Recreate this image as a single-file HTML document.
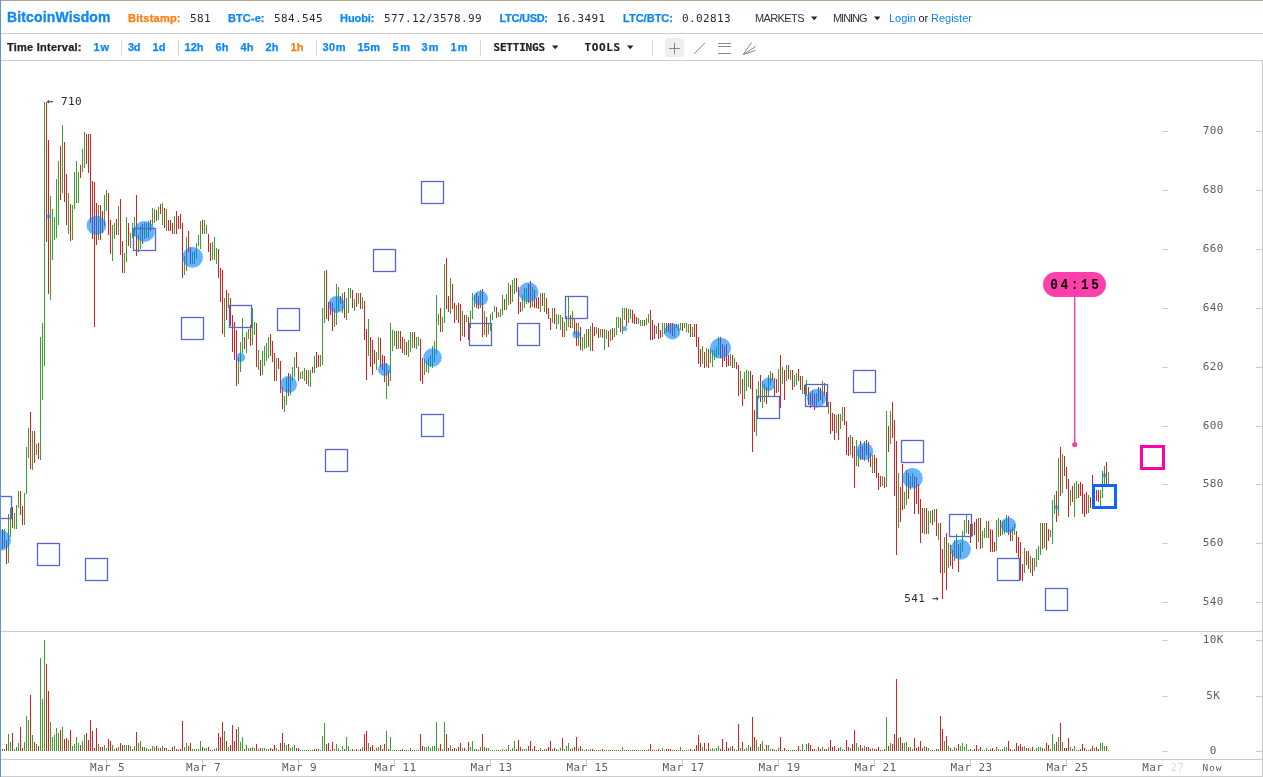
<!DOCTYPE html>
<html lang="en"><head><meta charset="utf-8"><title>BitcoinWisdom</title>
<style>
html,body{margin:0;padding:0;background:#fff;overflow:hidden}
svg{display:block;position:absolute;left:0;top:0}
text{white-space:pre}
.sb{font-family:"Liberation Sans",sans-serif;font-weight:bold;font-size:11px}
.sr{font-family:"Liberation Sans",sans-serif;font-size:11px}
.mo{font-family:"DejaVu Sans Mono","Liberation Mono",monospace;font-size:11px;letter-spacing:0.38px;fill:#2a2a2a}
.mb{font-family:"DejaVu Sans Mono","Liberation Mono",monospace;font-weight:bold;font-size:11px}
.ax{font-family:"DejaVu Sans Mono","Liberation Mono",monospace;font-size:11px;letter-spacing:0.38px;fill:#606060}
.blue{fill:#0d86ff}.or{fill:#ff7f0e}.dk{fill:#222}
.sb{stroke-width:0.25px}.mb{stroke:#222;stroke-width:0.2px}.sb.blue{stroke:#0d86ff}.sb.or{stroke:#ff7f0e}.sb.dk{stroke:#222}
</style></head><body>
<svg width="1263" height="777" viewBox="0 0 1263 777">
<rect width="1263" height="777" fill="#fff"/>

<g shape-rendering="crispEdges">
<rect x="0" y="0" width="1263" height="1" fill="#b3a594"/>
<rect x="0" y="33" width="1263" height="1" fill="#cccccc"/>
<rect x="0" y="60" width="1263" height="1" fill="#cccccc"/>
<rect x="0" y="631" width="1263" height="1" fill="#cccccc"/>
<rect x="0" y="759" width="1263" height="1" fill="#cccccc"/>
<rect x="0" y="776" width="1263" height="1" fill="#cccccc"/>
<rect x="1262" y="60" width="1" height="717" fill="#cccccc"/>
<rect x="121" y="40" width="1" height="16" fill="#d8d8d8"/>
<rect x="178" y="40" width="1" height="16" fill="#d8d8d8"/>
<rect x="316" y="40" width="1" height="16" fill="#d8d8d8"/>
<rect x="480" y="40" width="1" height="16" fill="#d8d8d8"/>
<rect x="652" y="40" width="1" height="16" fill="#d8d8d8"/>
</g>
<text x="7" y="22" style="font-family:'Liberation Sans',sans-serif;font-weight:bold;font-size:14px;stroke:#0d86ff;stroke-width:0.3px" class="blue" textLength="103.5" lengthAdjust="spacing">BitcoinWisdom</text>
<text x="128" y="22" class="sb or" textLength="52.5" lengthAdjust="spacing">Bitstamp:</text>
<text x="190" y="22" class="mo">581</text>
<text x="228" y="22" class="sb blue" textLength="36.5" lengthAdjust="spacing">BTC-e:</text>
<text x="274" y="22" class="mo">584.545</text>
<text x="340" y="22" class="sb blue" textLength="34.5" lengthAdjust="spacing">Huobi:</text>
<text x="384" y="22" class="mo">577.12/3578.99</text>
<text x="499.5" y="22" class="sb blue" textLength="48.5" lengthAdjust="spacing">LTC/USD:</text>
<text x="556.5" y="22" class="mo">16.3491</text>
<text x="623" y="22" class="sb blue" textLength="50" lengthAdjust="spacing">LTC/BTC:</text>
<text x="682" y="22" class="mo">0.02813</text>
<text x="755" y="22" class="sr" textLength="49.5" lengthAdjust="spacing" fill="#333">MARKETS</text>
<text x="833" y="22" class="sr" textLength="34.5" lengthAdjust="spacing" fill="#333">MINING</text>
<text x="889" y="22" class="sr blue">Login</text>
<text x="918.5" y="22" class="sr dk">or</text>
<text x="931" y="22" class="sr blue">Register</text>
<path d="M811 16.5h6.4l-3.2 3.8z M874 16.5h6.4l-3.2 3.8z M552 45.5h6.4l-3.2 3.8z M627 45.5h6.4l-3.2 3.8z" fill="#222"/>
<text x="7" y="51" class="sb dk" textLength="74.5" lengthAdjust="spacing">Time Interval:</text>
<text x="93.5" y="51" class="sb blue" textLength="15.5" lengthAdjust="spacing">1w</text>
<text x="128" y="51" class="sb blue" textLength="12.5" lengthAdjust="spacing">3d</text>
<text x="152.5" y="51" class="sb blue" textLength="13" lengthAdjust="spacing">1d</text>
<text x="184.5" y="51" class="sb blue" textLength="19" lengthAdjust="spacing">12h</text>
<text x="215.5" y="51" class="sb blue" textLength="13" lengthAdjust="spacing">6h</text>
<text x="240.5" y="51" class="sb blue" textLength="13" lengthAdjust="spacing">4h</text>
<text x="265.5" y="51" class="sb blue" textLength="13" lengthAdjust="spacing">2h</text>
<text x="290.5" y="51" class="sb or" textLength="13" lengthAdjust="spacing">1h</text>
<text x="322.5" y="51" class="sb blue" textLength="23" lengthAdjust="spacing">30m</text>
<text x="357.5" y="51" class="sb blue" textLength="22.5" lengthAdjust="spacing">15m</text>
<text x="392.5" y="51" class="sb blue" textLength="17.5" lengthAdjust="spacing">5m</text>
<text x="421.5" y="51" class="sb blue" textLength="17" lengthAdjust="spacing">3m</text>
<text x="450.5" y="51" class="sb blue" textLength="17" lengthAdjust="spacing">1m</text>
<text x="493.5" y="51" class="mb dk" textLength="51.5" lengthAdjust="spacing">SETTINGS</text>
<text x="584.5" y="51" class="mb dk" textLength="35.5" lengthAdjust="spacing">TOOLS</text>
<rect x="665" y="38" width="19" height="19" rx="3" fill="#eeeeee"/>
<g stroke="#888" stroke-width="1" fill="none">
<path d="M669 48.5h11M674.5 43v11"/>
<path d="M694.2 53.8L704.8 43"/>
<path d="M718 43.5h13M718 46.5h13M718 53.5h13"/>
<path d="M743.2 54.6L751.5 42.4M743.2 54.6L755.8 46.4M743.2 54.6L755.5 50.3"/>
</g>
<g shape-rendering="crispEdges" fill="#cccccc">
<rect x="1162" y="131" width="6" height="1"/><rect x="1256" y="131" width="6" height="1"/>
<rect x="1162" y="190" width="6" height="1"/><rect x="1256" y="190" width="6" height="1"/>
<rect x="1162" y="249" width="6" height="1"/><rect x="1256" y="249" width="6" height="1"/>
<rect x="1162" y="308" width="6" height="1"/><rect x="1256" y="308" width="6" height="1"/>
<rect x="1162" y="367" width="6" height="1"/><rect x="1256" y="367" width="6" height="1"/>
<rect x="1162" y="426" width="6" height="1"/><rect x="1256" y="426" width="6" height="1"/>
<rect x="1162" y="484" width="6" height="1"/><rect x="1256" y="484" width="6" height="1"/>
<rect x="1162" y="543" width="6" height="1"/><rect x="1256" y="543" width="6" height="1"/>
<rect x="1162" y="602" width="6" height="1"/><rect x="1256" y="602" width="6" height="1"/>
<rect x="1162" y="640" width="6" height="1"/><rect x="1256" y="640" width="6" height="1"/>
<rect x="1162" y="696" width="6" height="1"/><rect x="1256" y="696" width="6" height="1"/>
<rect x="1162" y="751" width="6" height="1"/><rect x="1256" y="751" width="6" height="1"/>
<rect x="1162" y="760" width="1" height="4" fill="#ececec"/>
<rect x="1066" y="760" width="1" height="4"/>
<rect x="970" y="760" width="1" height="4"/>
<rect x="874" y="760" width="1" height="4"/>
<rect x="778" y="760" width="1" height="4"/>
<rect x="682" y="760" width="1" height="4"/>
<rect x="586" y="760" width="1" height="4"/>
<rect x="490" y="760" width="1" height="4"/>
<rect x="394" y="760" width="1" height="4"/>
<rect x="298" y="760" width="1" height="4"/>
<rect x="202" y="760" width="1" height="4"/>
<rect x="106" y="760" width="1" height="4"/>
</g>
<text x="1213.2" y="134" class="ax" text-anchor="middle">700</text>
<text x="1213.2" y="193" class="ax" text-anchor="middle">680</text>
<text x="1213.2" y="252" class="ax" text-anchor="middle">660</text>
<text x="1213.2" y="311" class="ax" text-anchor="middle">640</text>
<text x="1213.2" y="370" class="ax" text-anchor="middle">620</text>
<text x="1213.2" y="429" class="ax" text-anchor="middle">600</text>
<text x="1213.2" y="487" class="ax" text-anchor="middle">580</text>
<text x="1213.2" y="546" class="ax" text-anchor="middle">560</text>
<text x="1213.2" y="605" class="ax" text-anchor="middle">540</text>
<text x="1213.2" y="643" class="ax" text-anchor="middle">10K</text>
<text x="1213.2" y="699" class="ax" text-anchor="middle">5K</text>
<text x="1213.2" y="754" class="ax" text-anchor="middle">0</text>
<text x="107.6" y="771" class="ax" text-anchor="middle">Mar 5</text>
<text x="203.6" y="771" class="ax" text-anchor="middle">Mar 7</text>
<text x="299.6" y="771" class="ax" text-anchor="middle">Mar 9</text>
<text x="395.6" y="771" class="ax" text-anchor="middle">Mar 11</text>
<text x="491.6" y="771" class="ax" text-anchor="middle">Mar 13</text>
<text x="587.6" y="771" class="ax" text-anchor="middle">Mar 15</text>
<text x="683.6" y="771" class="ax" text-anchor="middle">Mar 17</text>
<text x="779.6" y="771" class="ax" text-anchor="middle">Mar 19</text>
<text x="875.6" y="771" class="ax" text-anchor="middle">Mar 21</text>
<text x="971.6" y="771" class="ax" text-anchor="middle">Mar 23</text>
<text x="1067.6" y="771" class="ax" text-anchor="middle">Mar 25</text>
<text x="1142.2" y="771" class="ax">Mar <tspan fill="#dedede">27</tspan></text>
<text x="1202.4" y="771" class="ax" style="font-size:9.5px;letter-spacing:1.0px" fill="#505050">Now</text>
<g shape-rendering="crispEdges">
<path d="M4 529h1V548h-1zM8 514h1V563h-1zM10 508h1V537h-1zM14 513h1V529h-1zM16 505h1V529h-1zM18 491h1V508h-1zM24 493h1V525h-1zM26 447h1V494h-1zM28 428h1V458h-1zM32 431h1V470h-1zM36 444h1V455h-1zM40 337h1V460h-1zM42 323h1V400h-1zM44 102h1V366h-1zM50 196h1V300h-1zM52 209h1V260h-1zM54 217h1V240h-1zM56 179h1V238h-1zM58 161h1V225h-1zM62 125h1V193h-1zM68 193h1V234h-1zM72 205h1V240h-1zM74 172h1V209h-1zM76 161h1V203h-1zM78 172h1V203h-1zM82 149h1V172h-1zM84 132h1V168h-1zM98 205h1V240h-1zM104 195h1V226h-1zM106 190h1V211h-1zM112 225h1V261h-1zM114 223h1V239h-1zM118 206h1V235h-1zM124 253h1V273h-1zM126 217h1V262h-1zM130 233h1V248h-1zM132 223h1V238h-1zM134 217h1V236h-1zM138 235h1V252h-1zM140 226h1V249h-1zM144 223h1V239h-1zM146 223h1V238h-1zM148 221h1V238h-1zM152 208h1V225h-1zM154 209h1V223h-1zM158 207h1V220h-1zM162 203h1V225h-1zM166 209h1V231h-1zM174 216h1V234h-1zM184 256h1V275h-1zM186 237h1V271h-1zM192 252h1V264h-1zM194 251h1V264h-1zM196 243h1V259h-1zM198 235h1V246h-1zM200 221h1V249h-1zM204 220h1V234h-1zM206 225h1V234h-1zM212 242h1V260h-1zM214 237h1V260h-1zM216 248h1V264h-1zM224 298h1V337h-1zM228 293h1V308h-1zM238 357h1V384h-1zM240 342h1V372h-1zM242 318h1V353h-1zM246 332h1V353h-1zM248 329h1V339h-1zM252 308h1V345h-1zM254 322h1V335h-1zM258 350h1V370h-1zM262 351h1V375h-1zM264 346h1V366h-1zM266 343h1V361h-1zM268 337h1V358h-1zM276 358h1V381h-1zM284 396h1V412h-1zM286 378h1V405h-1zM290 374h1V395h-1zM292 367h1V381h-1zM294 357h1V377h-1zM300 372h1V379h-1zM302 371h1V379h-1zM304 368h1V381h-1zM308 370h1V386h-1zM310 370h1V387h-1zM314 356h1V373h-1zM320 355h1V367h-1zM322 308h1V365h-1zM324 271h1V323h-1zM334 308h1V327h-1zM336 284h1V325h-1zM338 287h1V311h-1zM342 293h1V313h-1zM346 298h1V320h-1zM348 288h1V313h-1zM350 288h1V298h-1zM354 299h1V311h-1zM358 293h1V304h-1zM362 297h1V309h-1zM368 319h1V356h-1zM376 352h1V370h-1zM378 337h1V360h-1zM386 363h1V399h-1zM390 323h1V381h-1zM392 330h1V351h-1zM394 331h1V346h-1zM398 331h1V349h-1zM404 339h1V355h-1zM408 340h1V357h-1zM410 332h1V352h-1zM412 332h1V348h-1zM416 337h1V349h-1zM418 337h1V346h-1zM424 359h1V375h-1zM426 361h1V372h-1zM428 358h1V373h-1zM430 355h1V367h-1zM432 346h1V368h-1zM434 341h1V362h-1zM436 295h1V354h-1zM438 314h1V325h-1zM442 317h1V332h-1zM444 264h1V323h-1zM450 278h1V314h-1zM456 305h1V320h-1zM462 311h1V336h-1zM466 315h1V322h-1zM470 311h1V328h-1zM472 293h1V319h-1zM474 295h1V307h-1zM480 290h1V308h-1zM484 311h1V335h-1zM488 324h1V334h-1zM490 314h1V331h-1zM492 312h1V320h-1zM494 306h1V312h-1zM498 312h1V317h-1zM500 309h1V317h-1zM502 295h1V315h-1zM506 294h1V310h-1zM508 283h1V305h-1zM512 280h1V302h-1zM514 278h1V294h-1zM522 295h1V311h-1zM524 288h1V308h-1zM526 288h1V304h-1zM532 287h1V307h-1zM540 293h1V312h-1zM544 293h1V312h-1zM552 308h1V323h-1zM556 314h1V329h-1zM558 315h1V324h-1zM560 315h1V330h-1zM564 322h1V337h-1zM566 316h1V331h-1zM568 297h1V327h-1zM572 311h1V328h-1zM578 323h1V346h-1zM582 337h1V351h-1zM584 334h1V349h-1zM586 329h1V348h-1zM590 326h1V351h-1zM596 327h1V334h-1zM600 329h1V337h-1zM604 329h1V350h-1zM606 330h1V339h-1zM610 329h1V341h-1zM614 328h1V337h-1zM616 317h1V335h-1zM618 317h1V328h-1zM622 308h1V334h-1zM624 308h1V320h-1zM628 309h1V323h-1zM630 309h1V319h-1zM638 318h1V324h-1zM640 320h1V326h-1zM642 320h1V326h-1zM646 318h1V325h-1zM648 314h1V323h-1zM656 326h1V334h-1zM662 323h1V337h-1zM664 323h1V334h-1zM674 324h1V337h-1zM678 324h1V331h-1zM680 323h1V330h-1zM684 323h1V328h-1zM686 323h1V332h-1zM688 324h1V333h-1zM692 327h1V337h-1zM702 346h1V364h-1zM706 348h1V367h-1zM710 349h1V363h-1zM712 350h1V367h-1zM714 350h1V360h-1zM716 347h1V358h-1zM718 337h1V355h-1zM730 354h1V366h-1zM734 358h1V368h-1zM740 371h1V394h-1zM744 372h1V399h-1zM746 370h1V391h-1zM748 371h1V387h-1zM756 389h1V436h-1zM758 381h1V399h-1zM762 381h1V408h-1zM764 384h1V402h-1zM768 375h1V396h-1zM770 371h1V385h-1zM778 369h1V392h-1zM782 367h1V384h-1zM786 365h1V381h-1zM790 370h1V380h-1zM794 375h1V387h-1zM796 373h1V385h-1zM802 376h1V394h-1zM806 380h1V396h-1zM816 393h1V406h-1zM822 381h1V403h-1zM828 402h1V414h-1zM836 415h1V433h-1zM840 414h1V429h-1zM842 407h1V421h-1zM850 435h1V455h-1zM856 440h1V466h-1zM858 449h1V467h-1zM864 441h1V461h-1zM872 455h1V473h-1zM882 476h1V486h-1zM886 411h1V487h-1zM890 411h1V444h-1zM898 473h1V528h-1zM904 492h1V509h-1zM906 470h1V505h-1zM910 476h1V490h-1zM912 473h1V487h-1zM924 508h1V534h-1zM928 511h1V534h-1zM930 511h1V523h-1zM934 509h1V522h-1zM938 523h1V540h-1zM944 537h1V573h-1zM948 543h1V568h-1zM954 540h1V561h-1zM956 534h1V558h-1zM960 543h1V558h-1zM962 531h1V552h-1zM964 520h1V536h-1zM966 515h1V533h-1zM972 524h1V536h-1zM978 518h1V542h-1zM982 531h1V548h-1zM984 528h1V538h-1zM986 521h1V538h-1zM996 520h1V551h-1zM998 518h1V537h-1zM1002 521h1V535h-1zM1004 520h1V534h-1zM1006 515h1V532h-1zM1012 527h1V541h-1zM1014 524h1V535h-1zM1024 548h1V573h-1zM1030 556h1V573h-1zM1034 558h1V571h-1zM1036 549h1V567h-1zM1038 546h1V560h-1zM1040 523h1V555h-1zM1044 523h1V548h-1zM1050 530h1V537h-1zM1052 500h1V544h-1zM1054 495h1V514h-1zM1058 458h1V516h-1zM1062 454h1V493h-1zM1070 490h1V506h-1zM1074 483h1V517h-1zM1076 481h1V499h-1zM1088 495h1V513h-1zM1094 487h1V498h-1zM1100 490h1V506h-1zM1102 471h1V498h-1zM1104 466h1V486h-1zM1108 472h1V486h-1z" fill="#38a42d"/>
<path d="M2 529h1V549h-1zM6 540h1V564h-1zM12 507h1V528h-1zM20 491h1V515h-1zM22 506h1V525h-1zM30 412h1V469h-1zM34 431h1V463h-1zM38 443h1V459h-1zM46 102h1V242h-1zM48 140h1V294h-1zM60 146h1V200h-1zM64 142h1V202h-1zM66 174h1V225h-1zM70 204h1V241h-1zM80 165h1V178h-1zM86 134h1V164h-1zM88 134h1V173h-1zM90 134h1V223h-1zM92 181h1V239h-1zM94 182h1V327h-1zM96 203h1V245h-1zM100 205h1V240h-1zM102 211h1V233h-1zM108 193h1V235h-1zM110 220h1V254h-1zM116 219h1V235h-1zM120 199h1V255h-1zM122 241h1V273h-1zM128 223h1V246h-1zM136 195h1V256h-1zM142 224h1V244h-1zM150 220h1V231h-1zM156 210h1V221h-1zM160 204h1V214h-1zM164 208h1V228h-1zM168 220h1V231h-1zM170 220h1V231h-1zM172 223h1V234h-1zM176 211h1V234h-1zM178 216h1V229h-1zM180 214h1V229h-1zM182 223h1V278h-1zM188 231h1V252h-1zM190 247h1V264h-1zM202 220h1V234h-1zM208 234h1V252h-1zM210 243h1V261h-1zM218 249h1V278h-1zM220 268h1V302h-1zM222 270h1V334h-1zM226 290h1V320h-1zM230 298h1V326h-1zM232 315h1V352h-1zM234 322h1V360h-1zM236 330h1V386h-1zM244 337h1V349h-1zM250 325h1V346h-1zM256 323h1V367h-1zM260 360h1V376h-1zM270 334h1V356h-1zM272 341h1V362h-1zM274 353h1V381h-1zM278 358h1V369h-1zM280 361h1V393h-1zM282 387h1V409h-1zM288 373h1V396h-1zM296 352h1V368h-1zM298 367h1V381h-1zM306 370h1V384h-1zM312 367h1V373h-1zM316 352h1V368h-1zM318 355h1V367h-1zM326 270h1V319h-1zM328 302h1V321h-1zM330 302h1V315h-1zM332 303h1V331h-1zM340 296h1V304h-1zM344 292h1V318h-1zM352 290h1V308h-1zM356 293h1V307h-1zM360 293h1V309h-1zM364 301h1V340h-1zM366 329h1V380h-1zM370 337h1V367h-1zM372 340h1V375h-1zM374 350h1V364h-1zM380 338h1V367h-1zM382 355h1V370h-1zM384 356h1V382h-1zM388 370h1V386h-1zM396 331h1V349h-1zM400 331h1V349h-1zM402 337h1V353h-1zM406 342h1V355h-1zM414 332h1V348h-1zM420 339h1V381h-1zM422 358h1V384h-1zM440 308h1V332h-1zM446 258h1V309h-1zM448 296h1V312h-1zM452 284h1V309h-1zM454 303h1V323h-1zM458 303h1V323h-1zM460 304h1V341h-1zM464 315h1V337h-1zM468 317h1V340h-1zM476 293h1V308h-1zM478 296h1V309h-1zM482 289h1V337h-1zM486 317h1V337h-1zM496 307h1V318h-1zM504 299h1V310h-1zM510 285h1V304h-1zM516 278h1V292h-1zM518 287h1V314h-1zM520 302h1V312h-1zM528 284h1V303h-1zM530 281h1V308h-1zM534 290h1V308h-1zM536 298h1V308h-1zM538 297h1V309h-1zM542 293h1V306h-1zM546 298h1V314h-1zM548 308h1V319h-1zM550 318h1V330h-1zM554 308h1V324h-1zM562 317h1V337h-1zM570 315h1V328h-1zM574 319h1V334h-1zM576 323h1V346h-1zM580 327h1V350h-1zM588 329h1V347h-1zM592 323h1V351h-1zM594 327h1V336h-1zM598 328h1V338h-1zM602 329h1V338h-1zM608 331h1V347h-1zM612 328h1V340h-1zM620 318h1V332h-1zM626 308h1V326h-1zM632 310h1V323h-1zM634 314h1V324h-1zM636 317h1V324h-1zM644 320h1V326h-1zM650 310h1V340h-1zM652 320h1V340h-1zM654 325h1V339h-1zM658 323h1V339h-1zM660 330h1V338h-1zM666 323h1V332h-1zM668 323h1V332h-1zM670 323h1V334h-1zM672 323h1V336h-1zM676 324h1V328h-1zM682 323h1V331h-1zM690 324h1V337h-1zM694 324h1V337h-1zM696 324h1V347h-1zM698 337h1V364h-1zM700 349h1V367h-1zM704 352h1V368h-1zM708 349h1V368h-1zM720 337h1V358h-1zM722 344h1V367h-1zM724 346h1V361h-1zM726 344h1V367h-1zM728 355h1V366h-1zM732 355h1V368h-1zM736 362h1V369h-1zM738 365h1V396h-1zM742 379h1V406h-1zM750 371h1V389h-1zM752 375h1V452h-1zM754 410h1V432h-1zM760 375h1V402h-1zM766 387h1V404h-1zM772 373h1V381h-1zM774 378h1V396h-1zM776 379h1V393h-1zM780 355h1V408h-1zM784 370h1V400h-1zM788 365h1V379h-1zM792 370h1V390h-1zM798 369h1V381h-1zM800 376h1V390h-1zM804 385h1V394h-1zM808 387h1V405h-1zM810 393h1V408h-1zM812 391h1V405h-1zM814 394h1V410h-1zM818 387h1V402h-1zM820 388h1V400h-1zM824 383h1V396h-1zM826 392h1V406h-1zM830 402h1V434h-1zM832 413h1V431h-1zM834 414h1V440h-1zM838 414h1V440h-1zM844 407h1V425h-1zM846 421h1V455h-1zM848 437h1V456h-1zM852 437h1V458h-1zM854 446h1V488h-1zM860 441h1V460h-1zM862 446h1V459h-1zM866 440h1V455h-1zM868 442h1V462h-1zM870 453h1V467h-1zM874 455h1V473h-1zM876 458h1V478h-1zM878 473h1V490h-1zM880 476h1V487h-1zM884 477h1V488h-1zM888 426h1V452h-1zM892 402h1V438h-1zM894 420h1V496h-1zM896 441h1V555h-1zM900 487h1V522h-1zM902 464h1V510h-1zM908 473h1V499h-1zM914 476h1V514h-1zM916 477h1V504h-1zM918 484h1V514h-1zM920 499h1V543h-1zM922 508h1V533h-1zM926 508h1V534h-1zM932 510h1V525h-1zM936 509h1V536h-1zM940 523h1V573h-1zM942 549h1V599h-1zM946 533h1V590h-1zM950 545h1V566h-1zM952 550h1V569h-1zM958 544h1V572h-1zM968 520h1V534h-1zM970 524h1V543h-1zM974 522h1V535h-1zM976 519h1V549h-1zM980 518h1V549h-1zM988 521h1V538h-1zM990 529h1V552h-1zM992 530h1V552h-1zM994 542h1V552h-1zM1000 520h1V536h-1zM1008 516h1V535h-1zM1010 529h1V541h-1zM1016 531h1V553h-1zM1018 537h1V558h-1zM1020 542h1V580h-1zM1022 564h1V581h-1zM1026 551h1V565h-1zM1028 551h1V569h-1zM1032 558h1V576h-1zM1042 523h1V549h-1zM1046 523h1V550h-1zM1048 529h1V541h-1zM1056 491h1V522h-1zM1060 447h1V496h-1zM1064 456h1V476h-1zM1066 467h1V489h-1zM1068 479h1V517h-1zM1072 486h1V502h-1zM1078 484h1V498h-1zM1080 482h1V496h-1zM1082 484h1V514h-1zM1084 494h1V517h-1zM1086 492h1V514h-1zM1090 497h1V508h-1zM1092 475h1V488h-1zM1096 490h1V501h-1zM1098 490h1V502h-1zM1106 462h1V486h-1z" fill="#e41a1c"/>
<path d="M4 749h1V751h-1zM8 734h1V751h-1zM10 742h1V751h-1zM14 749h1V751h-1zM16 747h1V751h-1zM18 743h1V751h-1zM24 742h1V751h-1zM26 716h1V751h-1zM28 720h1V751h-1zM32 735h1V751h-1zM36 744h1V751h-1zM40 658h1V751h-1zM42 699h1V751h-1zM44 640h1V751h-1zM50 722h1V751h-1zM52 737h1V751h-1zM54 735h1V751h-1zM56 728h1V751h-1zM58 733h1V751h-1zM62 727h1V751h-1zM68 740h1V751h-1zM72 746h1V751h-1zM74 744h1V751h-1zM76 737h1V751h-1zM78 743h1V751h-1zM82 741h1V751h-1zM84 735h1V751h-1zM98 744h1V751h-1zM104 745h1V751h-1zM106 748h1V751h-1zM112 745h1V751h-1zM114 749h1V751h-1zM118 747h1V751h-1zM124 745h1V751h-1zM126 745h1V751h-1zM130 746h1V751h-1zM132 749h1V751h-1zM134 746h1V751h-1zM138 743h1V751h-1zM140 741h1V751h-1zM144 747h1V751h-1zM146 748h1V751h-1zM148 749h1V751h-1zM152 746h1V751h-1zM154 747h1V751h-1zM158 748h1V751h-1zM162 746h1V751h-1zM166 748h1V751h-1zM174 746h1V751h-1zM184 747h1V751h-1zM186 743h1V751h-1zM192 749h1V751h-1zM194 749h1V751h-1zM196 749h1V751h-1zM198 749h1V751h-1zM200 741h1V751h-1zM204 748h1V751h-1zM206 748h1V751h-1zM212 750h1V751h-1zM214 749h1V751h-1zM216 748h1V751h-1zM224 731h1V751h-1zM228 747h1V751h-1zM238 727h1V751h-1zM240 742h1V751h-1zM242 737h1V751h-1zM246 745h1V751h-1zM248 748h1V751h-1zM252 747h1V751h-1zM254 748h1V751h-1zM258 749h1V751h-1zM262 748h1V751h-1zM264 748h1V751h-1zM266 749h1V751h-1zM268 749h1V751h-1zM276 748h1V751h-1zM284 743h1V751h-1zM286 745h1V751h-1zM290 748h1V751h-1zM292 747h1V751h-1zM294 745h1V751h-1zM300 750h1V751h-1zM302 750h1V751h-1zM304 750h1V751h-1zM308 750h1V751h-1zM310 750h1V751h-1zM314 749h1V751h-1zM320 750h1V751h-1zM322 736h1V751h-1zM324 723h1V751h-1zM334 749h1V751h-1zM336 744h1V751h-1zM338 748h1V751h-1zM342 746h1V751h-1zM346 737h1V751h-1zM348 746h1V751h-1zM350 750h1V751h-1zM354 750h1V751h-1zM358 750h1V751h-1zM362 747h1V751h-1zM368 743h1V751h-1zM376 748h1V751h-1zM378 747h1V751h-1zM386 731h1V751h-1zM390 737h1V751h-1zM392 750h1V751h-1zM394 750h1V751h-1zM398 750h1V751h-1zM404 750h1V751h-1zM408 750h1V751h-1zM410 748h1V751h-1zM412 750h1V751h-1zM416 750h1V751h-1zM418 750h1V751h-1zM424 747h1V751h-1zM426 747h1V751h-1zM428 746h1V751h-1zM430 748h1V751h-1zM432 746h1V751h-1zM434 746h1V751h-1zM436 722h1V751h-1zM438 748h1V751h-1zM442 749h1V751h-1zM444 722h1V751h-1zM450 745h1V751h-1zM456 749h1V751h-1zM462 748h1V751h-1zM466 750h1V751h-1zM470 747h1V751h-1zM472 741h1V751h-1zM474 749h1V751h-1zM480 747h1V751h-1zM484 747h1V751h-1zM488 748h1V751h-1zM490 750h1V751h-1zM492 750h1V751h-1zM494 750h1V751h-1zM498 750h1V751h-1zM500 750h1V751h-1zM502 749h1V751h-1zM506 749h1V751h-1zM508 745h1V751h-1zM512 748h1V751h-1zM514 741h1V751h-1zM522 749h1V751h-1zM524 749h1V751h-1zM526 749h1V751h-1zM532 749h1V751h-1zM540 748h1V751h-1zM544 749h1V751h-1zM552 749h1V751h-1zM556 749h1V751h-1zM558 750h1V751h-1zM560 748h1V751h-1zM564 749h1V751h-1zM566 746h1V751h-1zM568 743h1V751h-1zM572 748h1V751h-1zM578 748h1V751h-1zM582 749h1V751h-1zM584 750h1V751h-1zM586 749h1V751h-1zM590 749h1V751h-1zM596 750h1V751h-1zM600 750h1V751h-1zM604 750h1V751h-1zM606 750h1V751h-1zM610 750h1V751h-1zM614 750h1V751h-1zM616 750h1V751h-1zM618 750h1V751h-1zM622 747h1V751h-1zM624 750h1V751h-1zM628 750h1V751h-1zM630 750h1V751h-1zM638 750h1V751h-1zM640 750h1V751h-1zM642 750h1V751h-1zM646 750h1V751h-1zM648 749h1V751h-1zM656 750h1V751h-1zM662 748h1V751h-1zM664 750h1V751h-1zM674 750h1V751h-1zM678 750h1V751h-1zM680 747h1V751h-1zM684 750h1V751h-1zM686 750h1V751h-1zM688 750h1V751h-1zM692 750h1V751h-1zM702 747h1V751h-1zM706 749h1V751h-1zM710 749h1V751h-1zM712 748h1V751h-1zM714 749h1V751h-1zM716 748h1V751h-1zM718 746h1V751h-1zM730 747h1V751h-1zM734 749h1V751h-1zM740 748h1V751h-1zM744 749h1V751h-1zM746 748h1V751h-1zM748 745h1V751h-1zM756 740h1V751h-1zM758 747h1V751h-1zM762 741h1V751h-1zM764 749h1V751h-1zM768 745h1V751h-1zM770 749h1V751h-1zM778 748h1V751h-1zM782 750h1V751h-1zM786 750h1V751h-1zM790 750h1V751h-1zM794 750h1V751h-1zM796 750h1V751h-1zM802 744h1V751h-1zM806 744h1V751h-1zM816 750h1V751h-1zM822 747h1V751h-1zM828 747h1V751h-1zM836 750h1V751h-1zM840 747h1V751h-1zM842 749h1V751h-1zM850 748h1V751h-1zM856 743h1V751h-1zM858 747h1V751h-1zM864 746h1V751h-1zM872 748h1V751h-1zM882 750h1V751h-1zM886 717h1V751h-1zM890 743h1V751h-1zM898 738h1V751h-1zM904 743h1V751h-1zM906 742h1V751h-1zM910 747h1V751h-1zM912 749h1V751h-1zM924 746h1V751h-1zM928 748h1V751h-1zM930 750h1V751h-1zM934 750h1V751h-1zM938 749h1V751h-1zM944 741h1V751h-1zM948 746h1V751h-1zM954 747h1V751h-1zM956 748h1V751h-1zM960 746h1V751h-1zM962 743h1V751h-1zM964 747h1V751h-1zM966 744h1V751h-1zM972 750h1V751h-1zM978 749h1V751h-1zM982 750h1V751h-1zM984 750h1V751h-1zM986 748h1V751h-1zM996 747h1V751h-1zM998 749h1V751h-1zM1002 749h1V751h-1zM1004 747h1V751h-1zM1006 747h1V751h-1zM1012 750h1V751h-1zM1014 749h1V751h-1zM1024 746h1V751h-1zM1030 749h1V751h-1zM1034 750h1V751h-1zM1036 748h1V751h-1zM1038 747h1V751h-1zM1040 747h1V751h-1zM1044 749h1V751h-1zM1050 749h1V751h-1zM1052 734h1V751h-1zM1054 744h1V751h-1zM1058 737h1V751h-1zM1062 742h1V751h-1zM1070 747h1V751h-1zM1074 746h1V751h-1zM1076 750h1V751h-1zM1088 750h1V751h-1zM1094 748h1V751h-1zM1100 743h1V751h-1zM1102 743h1V751h-1zM1104 746h1V751h-1zM1108 750h1V751h-1z" fill="#38a42d"/>
<path d="M2 749h1V751h-1zM6 744h1V751h-1zM12 733h1V751h-1zM20 727h1V751h-1zM22 748h1V751h-1zM30 695h1V751h-1zM34 742h1V751h-1zM38 746h1V751h-1zM46 664h1V751h-1zM48 691h1V751h-1zM60 730h1V751h-1zM64 739h1V751h-1zM66 738h1V751h-1zM70 730h1V751h-1zM80 745h1V751h-1zM86 733h1V751h-1zM88 740h1V751h-1zM90 720h1V751h-1zM92 731h1V751h-1zM94 748h1V751h-1zM96 728h1V751h-1zM100 747h1V751h-1zM102 747h1V751h-1zM108 739h1V751h-1zM110 741h1V751h-1zM116 748h1V751h-1zM120 743h1V751h-1zM122 745h1V751h-1zM128 745h1V751h-1zM136 732h1V751h-1zM142 747h1V751h-1zM150 749h1V751h-1zM156 746h1V751h-1zM160 748h1V751h-1zM164 748h1V751h-1zM168 750h1V751h-1zM170 750h1V751h-1zM172 747h1V751h-1zM176 749h1V751h-1zM178 750h1V751h-1zM180 749h1V751h-1zM182 721h1V751h-1zM188 746h1V751h-1zM190 743h1V751h-1zM202 747h1V751h-1zM208 747h1V751h-1zM210 750h1V751h-1zM218 733h1V751h-1zM220 737h1V751h-1zM222 722h1V751h-1zM226 741h1V751h-1zM230 745h1V751h-1zM232 725h1V751h-1zM234 741h1V751h-1zM236 729h1V751h-1zM244 749h1V751h-1zM250 748h1V751h-1zM256 744h1V751h-1zM260 748h1V751h-1zM270 748h1V751h-1zM272 749h1V751h-1zM274 745h1V751h-1zM278 750h1V751h-1zM280 743h1V751h-1zM282 733h1V751h-1zM288 744h1V751h-1zM296 748h1V751h-1zM298 748h1V751h-1zM306 750h1V751h-1zM312 750h1V751h-1zM316 749h1V751h-1zM318 749h1V751h-1zM326 744h1V751h-1zM328 743h1V751h-1zM330 750h1V751h-1zM332 742h1V751h-1zM340 750h1V751h-1zM344 749h1V751h-1zM352 749h1V751h-1zM356 749h1V751h-1zM360 749h1V751h-1zM364 734h1V751h-1zM366 731h1V751h-1zM370 747h1V751h-1zM372 745h1V751h-1zM374 750h1V751h-1zM380 745h1V751h-1zM382 749h1V751h-1zM384 744h1V751h-1zM388 749h1V751h-1zM396 750h1V751h-1zM400 750h1V751h-1zM402 749h1V751h-1zM406 750h1V751h-1zM414 750h1V751h-1zM420 734h1V751h-1zM422 746h1V751h-1zM440 744h1V751h-1zM446 734h1V751h-1zM448 748h1V751h-1zM452 749h1V751h-1zM454 748h1V751h-1zM458 747h1V751h-1zM460 743h1V751h-1zM464 748h1V751h-1zM468 742h1V751h-1zM476 749h1V751h-1zM478 750h1V751h-1zM482 734h1V751h-1zM486 748h1V751h-1zM496 750h1V751h-1zM504 750h1V751h-1zM510 750h1V751h-1zM516 749h1V751h-1zM518 740h1V751h-1zM520 747h1V751h-1zM528 746h1V751h-1zM530 741h1V751h-1zM534 746h1V751h-1zM536 750h1V751h-1zM538 750h1V751h-1zM542 750h1V751h-1zM546 749h1V751h-1zM548 747h1V751h-1zM550 741h1V751h-1zM554 748h1V751h-1zM562 738h1V751h-1zM570 749h1V751h-1zM574 747h1V751h-1zM576 737h1V751h-1zM580 746h1V751h-1zM588 750h1V751h-1zM592 749h1V751h-1zM594 750h1V751h-1zM598 750h1V751h-1zM602 749h1V751h-1zM608 750h1V751h-1zM612 750h1V751h-1zM620 750h1V751h-1zM626 750h1V751h-1zM632 750h1V751h-1zM634 750h1V751h-1zM636 750h1V751h-1zM644 750h1V751h-1zM650 744h1V751h-1zM652 750h1V751h-1zM654 750h1V751h-1zM658 749h1V751h-1zM660 750h1V751h-1zM666 749h1V751h-1zM668 749h1V751h-1zM670 749h1V751h-1zM672 750h1V751h-1zM676 750h1V751h-1zM682 750h1V751h-1zM690 749h1V751h-1zM694 749h1V751h-1zM696 745h1V751h-1zM698 735h1V751h-1zM700 743h1V751h-1zM704 743h1V751h-1zM708 743h1V751h-1zM720 749h1V751h-1zM722 739h1V751h-1zM724 750h1V751h-1zM726 742h1V751h-1zM728 748h1V751h-1zM732 746h1V751h-1zM736 750h1V751h-1zM738 724h1V751h-1zM742 742h1V751h-1zM750 747h1V751h-1zM752 717h1V751h-1zM754 737h1V751h-1zM760 744h1V751h-1zM766 745h1V751h-1zM772 749h1V751h-1zM774 750h1V751h-1zM776 750h1V751h-1zM780 737h1V751h-1zM784 748h1V751h-1zM788 750h1V751h-1zM792 750h1V751h-1zM798 746h1V751h-1zM800 750h1V751h-1zM804 750h1V751h-1zM808 743h1V751h-1zM810 745h1V751h-1zM812 749h1V751h-1zM814 749h1V751h-1zM818 747h1V751h-1zM820 749h1V751h-1zM824 749h1V751h-1zM826 749h1V751h-1zM830 740h1V751h-1zM832 747h1V751h-1zM834 746h1V751h-1zM838 748h1V751h-1zM844 750h1V751h-1zM846 740h1V751h-1zM848 747h1V751h-1zM852 744h1V751h-1zM854 730h1V751h-1zM860 745h1V751h-1zM862 748h1V751h-1zM866 747h1V751h-1zM868 747h1V751h-1zM870 749h1V751h-1zM874 749h1V751h-1zM876 749h1V751h-1zM878 747h1V751h-1zM880 750h1V751h-1zM884 749h1V751h-1zM888 746h1V751h-1zM892 744h1V751h-1zM894 734h1V751h-1zM896 679h1V751h-1zM900 737h1V751h-1zM902 743h1V751h-1zM908 747h1V751h-1zM914 738h1V751h-1zM916 748h1V751h-1zM918 747h1V751h-1zM920 741h1V751h-1zM922 748h1V751h-1zM926 747h1V751h-1zM932 750h1V751h-1zM936 749h1V751h-1zM940 716h1V751h-1zM942 729h1V751h-1zM946 736h1V751h-1zM950 748h1V751h-1zM952 750h1V751h-1zM958 744h1V751h-1zM968 750h1V751h-1zM970 749h1V751h-1zM974 749h1V751h-1zM976 745h1V751h-1zM980 747h1V751h-1zM988 750h1V751h-1zM990 749h1V751h-1zM992 748h1V751h-1zM994 750h1V751h-1zM1000 750h1V751h-1zM1008 741h1V751h-1zM1010 749h1V751h-1zM1016 743h1V751h-1zM1018 746h1V751h-1zM1020 744h1V751h-1zM1022 747h1V751h-1zM1026 748h1V751h-1zM1028 748h1V751h-1zM1032 747h1V751h-1zM1042 748h1V751h-1zM1046 743h1V751h-1zM1048 745h1V751h-1zM1056 742h1V751h-1zM1060 723h1V751h-1zM1064 748h1V751h-1zM1066 748h1V751h-1zM1068 738h1V751h-1zM1072 749h1V751h-1zM1078 750h1V751h-1zM1080 749h1V751h-1zM1082 744h1V751h-1zM1084 748h1V751h-1zM1086 750h1V751h-1zM1090 749h1V751h-1zM1092 746h1V751h-1zM1096 747h1V751h-1zM1098 749h1V751h-1zM1106 746h1V751h-1z" fill="#e41a1c"/>
</g>
<circle cx="0.5" cy="540.3" r="10.5" fill="#0080ff" fill-opacity="0.6"/>
<circle cx="48.4" cy="216.5" r="2.3" fill="#0080ff" fill-opacity="0.6"/>
<circle cx="96.4" cy="225.4" r="9.8" fill="#0080ff" fill-opacity="0.6"/>
<circle cx="144.4" cy="231.4" r="10.5" fill="#0080ff" fill-opacity="0.6"/>
<circle cx="192.6" cy="257.4" r="10.3" fill="#0080ff" fill-opacity="0.6"/>
<circle cx="240.6" cy="357.4" r="4.6" fill="#0080ff" fill-opacity="0.6"/>
<circle cx="336.5" cy="304.5" r="8.4" fill="#0080ff" fill-opacity="0.6"/>
<circle cx="288.5" cy="384.5" r="8.5" fill="#0080ff" fill-opacity="0.6"/>
<circle cx="384.5" cy="369.5" r="6.5" fill="#0080ff" fill-opacity="0.6"/>
<circle cx="480.6" cy="298.2" r="7.4" fill="#0080ff" fill-opacity="0.6"/>
<circle cx="432.5" cy="357.5" r="9.3" fill="#0080ff" fill-opacity="0.6"/>
<circle cx="528.5" cy="292.3" r="10.0" fill="#0080ff" fill-opacity="0.6"/>
<circle cx="576.3" cy="334.5" r="3.8" fill="#0080ff" fill-opacity="0.6"/>
<circle cx="624.5" cy="328.5" r="2.6" fill="#0080ff" fill-opacity="0.6"/>
<circle cx="672.4" cy="331.4" r="8.0" fill="#0080ff" fill-opacity="0.6"/>
<circle cx="720.5" cy="348.2" r="10.5" fill="#0080ff" fill-opacity="0.6"/>
<circle cx="768.4" cy="384.3" r="6.7" fill="#0080ff" fill-opacity="0.6"/>
<circle cx="816.5" cy="398.2" r="9.5" fill="#0080ff" fill-opacity="0.6"/>
<circle cx="864.5" cy="451.4" r="8.7" fill="#0080ff" fill-opacity="0.6"/>
<circle cx="912.5" cy="478.3" r="10.3" fill="#0080ff" fill-opacity="0.6"/>
<circle cx="960.6" cy="549.5" r="10.3" fill="#0080ff" fill-opacity="0.6"/>
<circle cx="1008.5" cy="525.2" r="7.7" fill="#0080ff" fill-opacity="0.6"/>
<circle cx="1056.5" cy="507.4" r="2.4" fill="#0080ff" fill-opacity="0.6"/>
<circle cx="1104.5" cy="475.4" r="2.4" fill="#0080ff" fill-opacity="0.6"/>
<g fill="none" stroke="#5566cc" stroke-width="1.3">
<rect x="-10.5" y="496.5" width="22" height="22"/>
<rect x="37.5" y="543.5" width="22" height="22"/>
<rect x="85.5" y="558.5" width="22" height="22"/>
<rect x="133.5" y="228.5" width="22" height="22"/>
<rect x="181.5" y="317.5" width="22" height="22"/>
<rect x="229.5" y="305.5" width="22" height="22"/>
<rect x="277.5" y="308.5" width="22" height="22"/>
<rect x="373.5" y="249.5" width="22" height="22"/>
<rect x="469.5" y="323.5" width="22" height="22"/>
<rect x="517.5" y="323.5" width="22" height="22"/>
<rect x="565.5" y="296.5" width="22" height="22"/>
<rect x="757.5" y="396.5" width="22" height="22"/>
<rect x="805.5" y="384.5" width="22" height="22"/>
<rect x="853.5" y="370.5" width="22" height="22"/>
<rect x="901.5" y="440.5" width="22" height="22"/>
<rect x="949.5" y="514.5" width="22" height="22"/>
<rect x="997.5" y="558.5" width="22" height="22"/>
<rect x="1045.5" y="588.5" width="22" height="22"/>
<rect x="421.5" y="181.5" width="22" height="22"/>
<rect x="421.5" y="414.5" width="22" height="22"/>
<rect x="325.5" y="449.5" width="22" height="22"/>
</g>
<rect x="1093.5" y="485.5" width="22" height="22" fill="none" stroke="#0a66ff" stroke-width="3"/>
<rect x="1141.5" y="446.5" width="22" height="22" fill="none" stroke="#ff00aa" stroke-width="3"/>
<text x="47" y="105" class="mo" fill="#333">← 710</text>
<text x="904.2" y="602" class="mo" fill="#333">541 →</text>
<rect x="1074" y="296" width="1.4" height="148" fill="#ff40aa"/>
<circle cx="1074.7" cy="444.5" r="2.6" fill="#ff40aa"/>
<rect x="1043" y="272" width="63" height="25" rx="12.5" fill="#ff40aa"/>
<text transform="translate(1050.3,289) scale(0.88,1)" style="font-family:'Liberation Mono',monospace;font-weight:bold;font-size:14.5px;letter-spacing:2.95px" fill="#000">04:15</text>
<rect x="0" y="0" width="1" height="777" fill="#5a96cf" shape-rendering="crispEdges"/>
</svg>
</body></html>
